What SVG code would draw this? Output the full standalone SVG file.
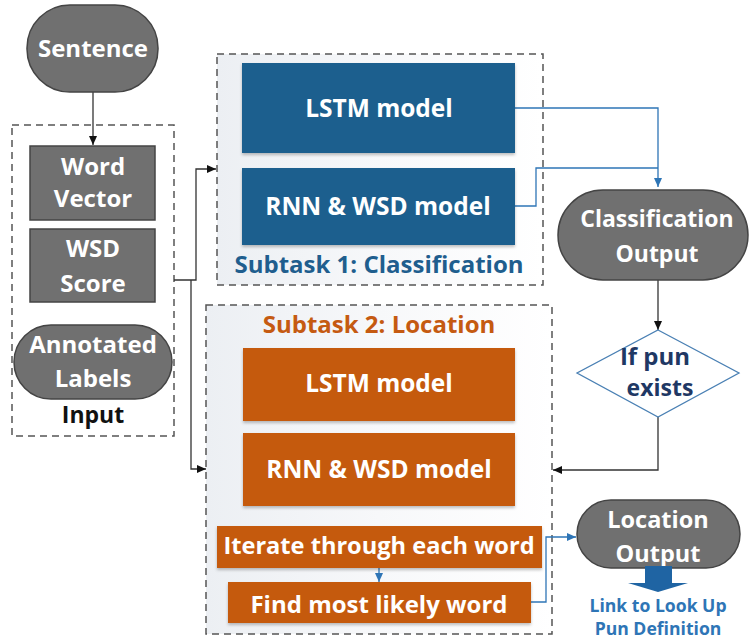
<svg xmlns="http://www.w3.org/2000/svg" width="751" height="644" viewBox="0 0 751 644">
  <defs>
    <linearGradient id="panelFill" x1="0" y1="0" x2="1" y2="0">
      <stop offset="0" stop-color="#eceff3"/>
      <stop offset="0.5" stop-color="#f7f8fa"/>
      <stop offset="1" stop-color="#ffffff"/>
    </linearGradient>
    <filter id="shadow" x="-5%" y="-10%" width="110%" height="125%">
      <feDropShadow dx="0" dy="2" stdDeviation="1.5" flood-color="#000" flood-opacity="0.25"/>
    </filter>
    <marker id="arrowBlack" markerWidth="10" markerHeight="10" refX="9" refY="5" orient="auto" markerUnits="userSpaceOnUse">
      <path d="M0,1 L9,5 L0,9 Z" fill="#111"/>
    </marker>
    <marker id="arrowBlue" markerWidth="10" markerHeight="10" refX="9" refY="5" orient="auto" markerUnits="userSpaceOnUse">
      <path d="M0,1 L9,5 L0,9 Z" fill="#2e75b6"/>
    </marker>
  </defs>
  <style>
    text { font-family: "Open Sans", Lato, "Liberation Sans", sans-serif; font-weight: bold; text-anchor: middle; }
    .white { fill: #ffffff; }
    .grey { fill: #707070; stroke: #444444; stroke-width: 1.5; }
    .blue { fill: #1f5e8e; filter: url(#shadow); }
    .orange { fill: #c55a11; filter: url(#shadow); }
    .panel { fill: url(#panelFill); stroke: #555555; stroke-width: 1.5; stroke-dasharray: 7 5; }
    .inputBox { fill: none; stroke: #555555; stroke-width: 1.5; stroke-dasharray: 7 5; }
    .wire { fill: none; stroke: #333333; stroke-width: 1.3; }
    .wireBlue { fill: none; stroke: #2e75b6; stroke-width: 1.3; }
  </style>

  <!-- Dashed groupings -->
  <rect class="inputBox" x="12" y="125" width="162" height="311"/>
  <rect class="panel" x="217" y="54" width="326" height="231"/>
  <rect class="panel" x="206" y="305" width="346" height="329"/>

  <!-- Connectors -->
  <g id="connectors">
    <path class="wire" d="M93,92 V145" marker-end="url(#arrowBlack)"/>
    <path class="wire" d="M174,280 H196 V169 H216" marker-end="url(#arrowBlack)"/>
    <path class="wire" d="M191,280 V469 H206" marker-end="url(#arrowBlack)"/>
    <path class="wireBlue" d="M515,108 H658 V187" marker-end="url(#arrowBlue)"/>
    <path class="wireBlue" d="M515,206 H536 V168 H658"/>
    <path class="wire" d="M658,280 V330" marker-end="url(#arrowBlack)"/>
    <path class="wire" d="M658,417 V470 H553" marker-end="url(#arrowBlack)"/>
    <path class="wireBlue" d="M379,568 V582" marker-end="url(#arrowBlue)" stroke="#1f5e8e"/>
    <path class="wireBlue" d="M531,602 H546 V537 H576" marker-end="url(#arrowBlue)"/>
  </g>

  <!-- Input column -->
  <g id="sentence">
    <rect class="grey" x="27" y="5" width="131" height="87" rx="43" ry="43"/>
    <text class="white" x="93" y="57" font-size="24">Sentence</text>
  </g>
  <g id="word-vector">
    <rect class="grey" x="30" y="146" width="125" height="74"/>
    <text class="white" x="93" y="175" font-size="24">Word</text>
    <text class="white" x="93" y="207" font-size="24">Vector</text>
  </g>
  <g id="wsd-score">
    <rect class="grey" x="30" y="229" width="125" height="73"/>
    <text class="white" x="93" y="257" font-size="24">WSD</text>
    <text class="white" x="93" y="292" font-size="24">Score</text>
  </g>
  <g id="annotated-labels">
    <rect class="grey" x="14" y="325" width="158" height="74" rx="37" ry="37"/>
    <text class="white" x="93" y="353" font-size="24">Annotated</text>
    <text class="white" x="93" y="387" font-size="24">Labels</text>
  </g>
  <g id="input-label">
    <text x="93" y="423" font-size="23" fill="#111111">Input</text>
  </g>

  <!-- Subtask 1 -->
  <g id="cls-lstm">
    <rect class="blue" x="242" y="63" width="273" height="90"/>
    <text class="white" x="379" y="117" font-size="24.5">LSTM model</text>
  </g>
  <g id="cls-rnn-wsd">
    <rect class="blue" x="242" y="168" width="273" height="77"/>
    <text class="white" x="378" y="215" font-size="24.5">RNN &amp; WSD model</text>
  </g>
  <g id="subtask1-label">
    <text x="379" y="273" font-size="24" fill="#1f5e8e">Subtask 1: Classification</text>
  </g>

  <!-- Classification result and decision -->
  <g id="classification-output">
    <rect class="grey" x="558" y="190" width="190" height="90" rx="45" ry="45"/>
    <text class="white" x="657" y="227" font-size="23">Classification</text>
    <text class="white" x="657" y="262" font-size="23">Output</text>
  </g>
  <g id="pun-check">
    <polygon points="658,330 739,373 658,417 577,373" fill="#ffffff" stroke="#4a80b4" stroke-width="1.3"/>
    <text x="655" y="365" font-size="24" fill="#1f3864">If pun</text>
    <text x="660" y="396" font-size="23" fill="#1f3864">exists</text>
  </g>

  <!-- Subtask 2 -->
  <g id="subtask2-label">
    <text x="379" y="333" font-size="24" fill="#c55a11">Subtask 2: Location</text>
  </g>
  <g id="loc-lstm">
    <rect class="orange" x="243" y="348" width="272" height="73"/>
    <text class="white" x="379" y="392" font-size="24.5">LSTM model</text>
  </g>
  <g id="loc-rnn-wsd">
    <rect class="orange" x="243" y="433" width="272" height="73"/>
    <text class="white" x="379" y="478" font-size="24.5">RNN &amp; WSD model</text>
  </g>
  <g id="iterate-words">
    <rect class="orange" x="217" y="526" width="325" height="42"/>
    <text class="white" x="379" y="554" font-size="23.6">Iterate through each word</text>
  </g>
  <g id="find-word">
    <rect class="orange" x="228" y="582" width="303" height="41"/>
    <text class="white" x="379" y="613" font-size="24">Find most likely word</text>
  </g>

  <!-- Location result -->
  <g id="location-output">
    <rect class="grey" x="577" y="500" width="163" height="68" rx="34" ry="34"/>
    <text class="white" x="658" y="528" font-size="23.5">Location</text>
    <text class="white" x="658" y="562" font-size="23.5">Output</text>
  </g>
  <g id="lookup-link">
    <path d="M645,566 H672 V583 H688 L658,592 L628,583 H645 Z" fill="#1f64a3"/>
    <text x="658" y="612" font-size="17.6" fill="#2e75b6">Link to Look Up</text>
    <text x="658" y="635" font-size="17.6" fill="#2e75b6">Pun Definition</text>
  </g>
</svg>
